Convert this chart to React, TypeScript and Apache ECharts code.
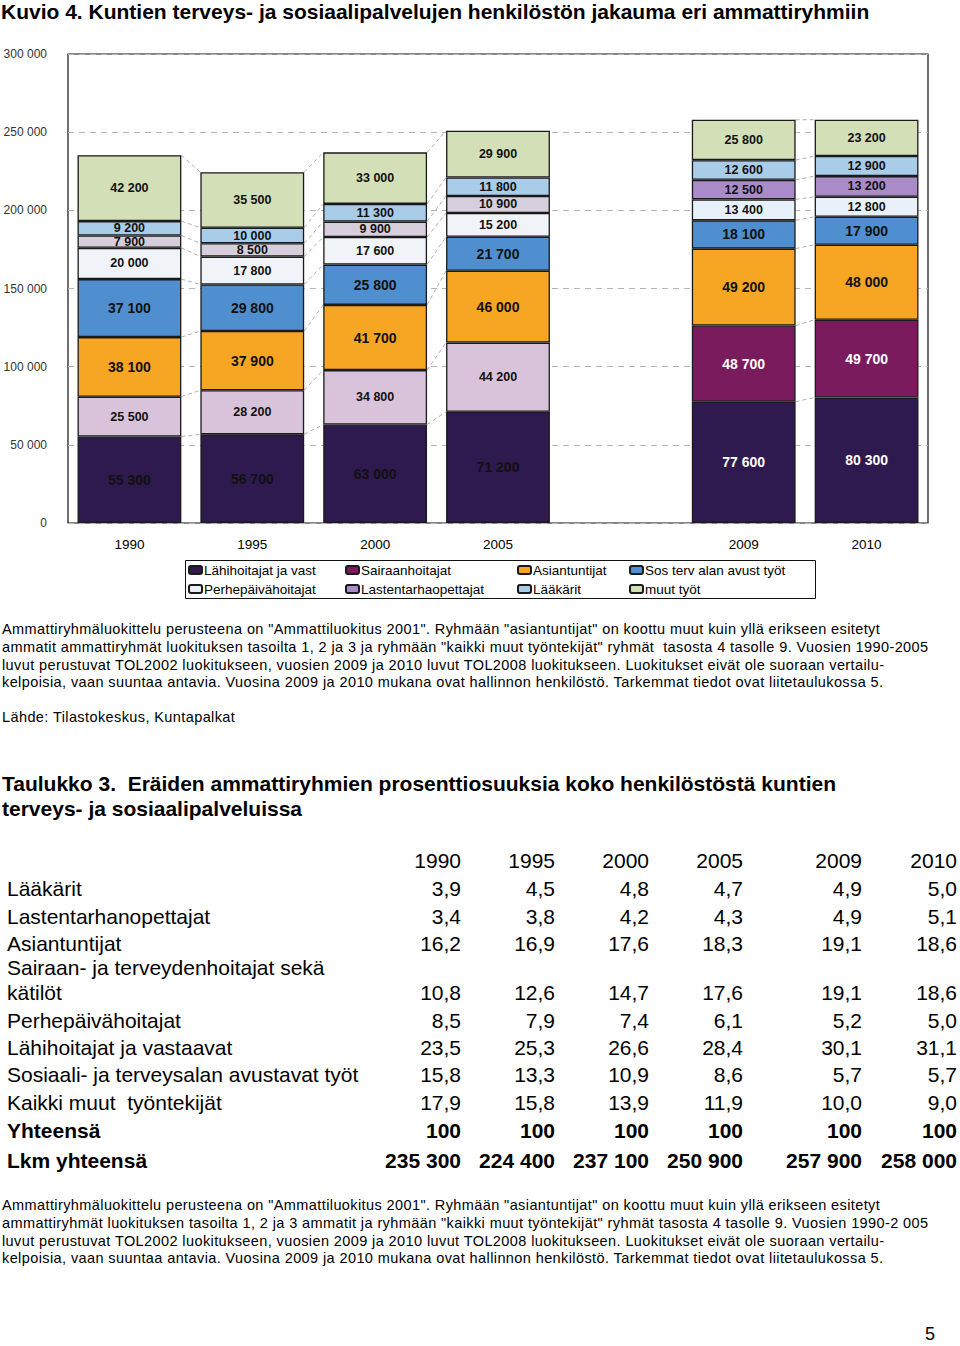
import React, { useEffect, useRef } from "react";
import * as echarts from "echarts";

// ---------- chart data ----------
const categories = ["1990", "1995", "2000", "2005", "", "2009", "2010"];
const lahihoitajat = [55300, 56700, 63000, 71200, null, 77600, 80300];
const sairaanhoitajat = [25500, 28200, 34800, 44200, null, 48700, 49700];
const asiantuntijat = [38100, 37900, 41700, 46000, null, 49200, 48000];
const sosTervAvust = [37100, 29800, 25800, 21700, null, 18100, 17900];
const perhepaivahoitajat = [20000, 17800, 17600, 15200, null, 13400, 12800];
const lastentarhaopettajat = [7900, 8500, 9900, 10900, null, 12500, 13200];
const laakarit = [9200, 10000, 11300, 11800, null, 12600, 12900];
const muutTyot = [42200, 35500, 33000, 29900, null, 25800, 23200];
const connectorPairs = [[0, 1], [1, 2], [2, 3], [5, 6]];

// ---------- table data ----------
const tableYears = ["1990", "1995", "2000", "2005", "2009", "2010"];
const tLaakarit = ["3,9", "4,5", "4,8", "4,7", "4,9", "5,0"];
const tLastentarhanopettajat = ["3,4", "3,8", "4,2", "4,3", "4,9", "5,1"];
const tAsiantuntijat = ["16,2", "16,9", "17,6", "18,3", "19,1", "18,6"];
const tSairaanhoitajat = ["10,8", "12,6", "14,7", "17,6", "19,1", "18,6"];
const tPerhepaivahoitajat = ["8,5", "7,9", "7,4", "6,1", "5,2", "5,0"];
const tLahihoitajat = ["23,5", "25,3", "26,6", "28,4", "30,1", "31,1"];
const tSosTerv = ["15,8", "13,3", "10,9", "8,6", "5,7", "5,7"];
const tKaikkiMuut = ["17,9", "15,8", "13,9", "11,9", "10,0", "9,0"];
const tYhteensa = ["100", "100", "100", "100", "100", "100"];
const tLkm = ["235 300", "224 400", "237 100", "250 900", "257 900", "258 000"];

const FONT = "'Liberation Sans', Arial, Helvetica, sans-serif";
const fmt = (v: number) => String(v).replace(/\B(?=(\d{3})+(?!\d))/g, " ");

// style definitions (colors / label sizes)
const BIG = 14;
const SMALL = 12.5;
const seriesDefs = [
  { name: "Lähihoitajat ja vast", data: lahihoitajat, color: "#2E1A4E", early: "#2E1A4E", lblEarly: "#111", lblLate: "#fff", fsEarly: BIG, fsLate: BIG },
  { name: "Sairaanhoitajat", data: sairaanhoitajat, color: "#7A1B5E", early: "#D9C3DA", lblEarly: "#111", lblLate: "#fff", fsEarly: SMALL, fsLate: BIG },
  { name: "Asiantuntijat", data: asiantuntijat, color: "#F6A623", early: "#F6A623", lblEarly: "#111", lblLate: "#111", fsEarly: BIG, fsLate: BIG },
  { name: "Sos terv alan avust työt", data: sosTervAvust, color: "#4F8FCF", early: "#4F8FCF", lblEarly: "#111", lblLate: "#111", fsEarly: BIG, fsLate: BIG },
  { name: "Perhepäivähoitajat", data: perhepaivahoitajat, color: "#E8F1FA", early: "#F0F3F7", lblEarly: "#111", lblLate: "#111", fsEarly: SMALL, fsLate: SMALL },
  { name: "Lastentarhaopettajat", data: lastentarhaopettajat, color: "#A98BC8", early: "#D7CEDB", lblEarly: "#111", lblLate: "#111", fsEarly: SMALL, fsLate: SMALL },
  { name: "Lääkärit", data: laakarit, color: "#A9CCE8", early: "#A9CCE8", lblEarly: "#111", lblLate: "#111", fsEarly: SMALL, fsLate: SMALL },
  { name: "muut työt", data: muutTyot, color: "#D3DFB7", early: "#D3DFB7", lblEarly: "#111", lblLate: "#111", fsEarly: SMALL, fsLate: SMALL },
];

const legendCols = [188, 345, 517, 629];
const legendRows = [563, 582];
const BAR_RATIO = 0.845;

function Chart() {
  const ref = useRef<HTMLDivElement>(null);
  useEffect(() => {
    if (!ref.current) return;
    const chart = echarts.init(ref.current, null, { renderer: "svg" });

    const bars = seriesDefs.map((s) => ({
      name: s.name,
      type: "bar",
      stack: "total",
      barWidth: BAR_RATIO * 100 + "%",
      z: 3,
      itemStyle: { color: s.color, borderColor: "#1a1a1a", borderWidth: 1.3 },
      label: { show: true, position: "inside", fontFamily: FONT, fontWeight: "bold", formatter: (p: any) => fmt(p.value) },
      data: s.data.map((v, i) =>
        v == null
          ? null
          : {
              value: v,
              itemStyle: { color: i < 4 ? s.early : s.color },
              label: { color: i < 4 ? s.lblEarly : s.lblLate, fontSize: i < 4 ? s.fsEarly : s.fsLate },
            }
      ),
    }));

    // cumulative tops for connectors
    const cum = categories.map((_, i) => {
      let acc = 0;
      return seriesDefs.map((s) => {
        acc += (s.data[i] as number) || 0;
        return acc;
      });
    });
    const connectorData: number[][] = [];
    connectorPairs.forEach(([a, b]) => {
      for (let k = 0; k < seriesDefs.length; k++) connectorData.push([a, cum[a][k], b, cum[b][k]]);
    });

    const option: any = {
      animation: false,
      title: {
        text: "Kuvio 4. Kuntien terveys- ja sosiaalipalvelujen henkilöstön jakauma eri ammattiryhmiin",
        left: 1,
        top: 1,
        padding: 0,
        textStyle: { fontFamily: FONT, fontSize: 21, fontWeight: "bold", color: "#000" },
      },
      legend: seriesDefs.map((s, i) => ({
        data: [s.name],
        left: legendCols[i % 4],
        top: legendRows[Math.floor(i / 4)],
        itemWidth: 13,
        itemHeight: 8,
        itemGap: 0,
        padding: 0,
        selectedMode: false,
        textStyle: { fontFamily: FONT, fontSize: 13.5, color: "#000", padding: [0, 0, 0, -3] },
      })),
      grid: { left: 68, right: 32, top: 54, bottom: 87, show: true, borderColor: "#111", borderWidth: 1.2, backgroundColor: "transparent" },
      xAxis: {
        type: "category",
        data: categories,
        axisTick: { show: false },
        axisLine: { show: false },
        axisLabel: { color: "#000", fontFamily: FONT, fontSize: 13.5, margin: 14 },
      },
      yAxis: {
        type: "value",
        min: 0,
        max: 300000,
        interval: 50000,
        axisLine: { show: false },
        axisTick: { show: false },
        axisLabel: { color: "#333", fontFamily: FONT, fontSize: 12, margin: 21, formatter: (v: number) => fmt(v) },
        splitLine: { lineStyle: { color: "#b5b5b5", type: [6, 5], width: 1 } },
      },
      graphic: [
        { type: "rect", shape: { x: 185.5, y: 560.5, width: 630, height: 38 }, style: { fill: "none", stroke: "#111", lineWidth: 1 } },
      ],
      series: [
        ...bars,
        {
          type: "custom",
          name: "connectors",
          z: 1,
          silent: true,
          encode: { x: [0, 2], y: [1, 3] },
          data: connectorData,
          renderItem: (params: any, api: any) => {
            const p1 = api.coord([api.value(0), api.value(1)]);
            const p2 = api.coord([api.value(2), api.value(3)]);
            const band = api.size([1, 0])[0];
            const half = (band * BAR_RATIO) / 2;
            return {
              type: "line",
              shape: { x1: p1[0] + half, y1: p1[1], x2: p2[0] - half, y2: p2[1] },
              style: { stroke: "#9a9a9a", lineWidth: 0.8, lineDash: [4, 3] },
            };
          },
        },
      ],
    };
    chart.setOption(option);
    return () => chart.dispose();
  }, []);
  return <div ref={ref} style={{ position: "absolute", left: 0, top: 0, width: 960, height: 610 }} />;
}

const para = [
  'Ammattiryhmäluokittelu perusteena on "Ammattiluokitus 2001". Ryhmään "asiantuntijat" on koottu muut kuin yllä erikseen esitetyt',
  'ammatit ammattiryhmät luokituksen tasoilta 1, 2 ja 3 ja ryhmään "kaikki muut työntekijät" ryhmät  tasosta 4 tasolle 9. Vuosien 1990-2005',
  "luvut perustuvat TOL2002 luokitukseen, vuosien 2009 ja 2010 luvut TOL2008 luokitukseen. Luokitukset eivät ole suoraan vertailu-",
  "kelpoisia, vaan suuntaa antavia. Vuosina 2009 ja 2010 mukana ovat hallinnon henkilöstö. Tarkemmat tiedot ovat liitetaulukossa 5.",
];
const para2 = [
  'Ammattiryhmäluokittelu perusteena on "Ammattiluokitus 2001". Ryhmään "asiantuntijat" on koottu muut kuin yllä erikseen esitetyt',
  'ammattiryhmät luokituksen tasoilta 1, 2 ja 3 ammatit ja ryhmään "kaikki muut työntekijät" ryhmät tasosta 4 tasolle 9. Vuosien 1990-2 005',
  "luvut perustuvat TOL2002 luokitukseen, vuosien 2009 ja 2010 luvut TOL2008 luokitukseen. Luokitukset eivät ole suoraan vertailu-",
  "kelpoisia, vaan suuntaa antavia. Vuosina 2009 ja 2010 mukana ovat hallinnon henkilöstö. Tarkemmat tiedot ovat liitetaulukossa 5.",
];

const colRight = [461, 555, 649, 743, 862, 957];
const tableRows: { label: string; values: string[] | null; y: number; bold?: boolean }[] = [
  { label: "Lääkärit", values: tLaakarit, y: 889 },
  { label: "Lastentarhanopettajat", values: tLastentarhanopettajat, y: 917 },
  { label: "Asiantuntijat", values: tAsiantuntijat, y: 944 },
  { label: "Sairaan- ja terveydenhoitajat sekä", values: null, y: 968 },
  { label: "kätilöt", values: tSairaanhoitajat, y: 993 },
  { label: "Perhepäivähoitajat", values: tPerhepaivahoitajat, y: 1021 },
  { label: "Lähihoitajat ja vastaavat", values: tLahihoitajat, y: 1048 },
  { label: "Sosiaali- ja terveysalan avustavat työt", values: tSosTerv, y: 1075 },
  { label: "Kaikki muut  työntekijät", values: tKaikkiMuut, y: 1103 },
  { label: "Yhteensä", values: tYhteensa, y: 1131, bold: true },
  { label: "Lkm yhteensä", values: tLkm, y: 1161, bold: true },
];

function Line({ text, x, y, size, bold, right, ls }: { text: string; x: number; y: number; size: number; bold?: boolean; right?: boolean; ls?: number }) {
  const style: any = {
    position: "absolute",
    top: y - size * 0.6,
    fontSize: size,
    lineHeight: size * 1.2 + "px",
    fontFamily: FONT,
    fontWeight: bold ? "bold" : "normal",
    whiteSpace: "pre",
    color: "#000",
    letterSpacing: ls ? ls + "px" : "normal",
  };
  if (right) {
    style.right = 960 - x;
  } else {
    style.left = x;
  }
  return <div style={style}>{text}</div>;
}

export default function App() {
  useEffect(() => {
    document.body.style.margin = "0";
  }, []);
  return (
    <div style={{ position: "relative", width: 960, height: 1346, background: "#fff", overflow: "hidden" }}>
      <Chart />
      {para.map((t, i) => (
        <Line key={"p" + i} text={t} x={2} y={630 + i * 17.7} size={14.5} ls={0.4} />
      ))}
      <Line text="Lähde: Tilastokeskus, Kuntapalkat" x={2} y={718} size={14.5} ls={0.4} />
      <Line text="Taulukko 3.  Eräiden ammattiryhmien prosenttiosuuksia koko henkilöstöstä kuntien" x={2} y={784} size={21} bold />
      <Line text="terveys- ja sosiaalipalveluissa" x={2} y={809} size={21} bold />
      {tableYears.map((yr, j) => (
        <Line key={"h" + j} text={yr} x={colRight[j]} y={861} size={21} right />
      ))}
      {tableRows.map((r, i) => (
        <React.Fragment key={"r" + i}>
          <Line text={r.label} x={7} y={r.y} size={21} bold={r.bold} />
          {r.values &&
            r.values.map((v, j) => <Line key={j} text={v} x={colRight[j]} y={r.y} size={21} bold={r.bold} right />)}
        </React.Fragment>
      ))}
      {para2.map((t, i) => (
        <Line key={"q" + i} text={t} x={2} y={1206 + i * 17.7} size={14.5} ls={0.4} />
      ))}
      <Line text="5" x={925} y={1335} size={18} />
    </div>
  );
}
